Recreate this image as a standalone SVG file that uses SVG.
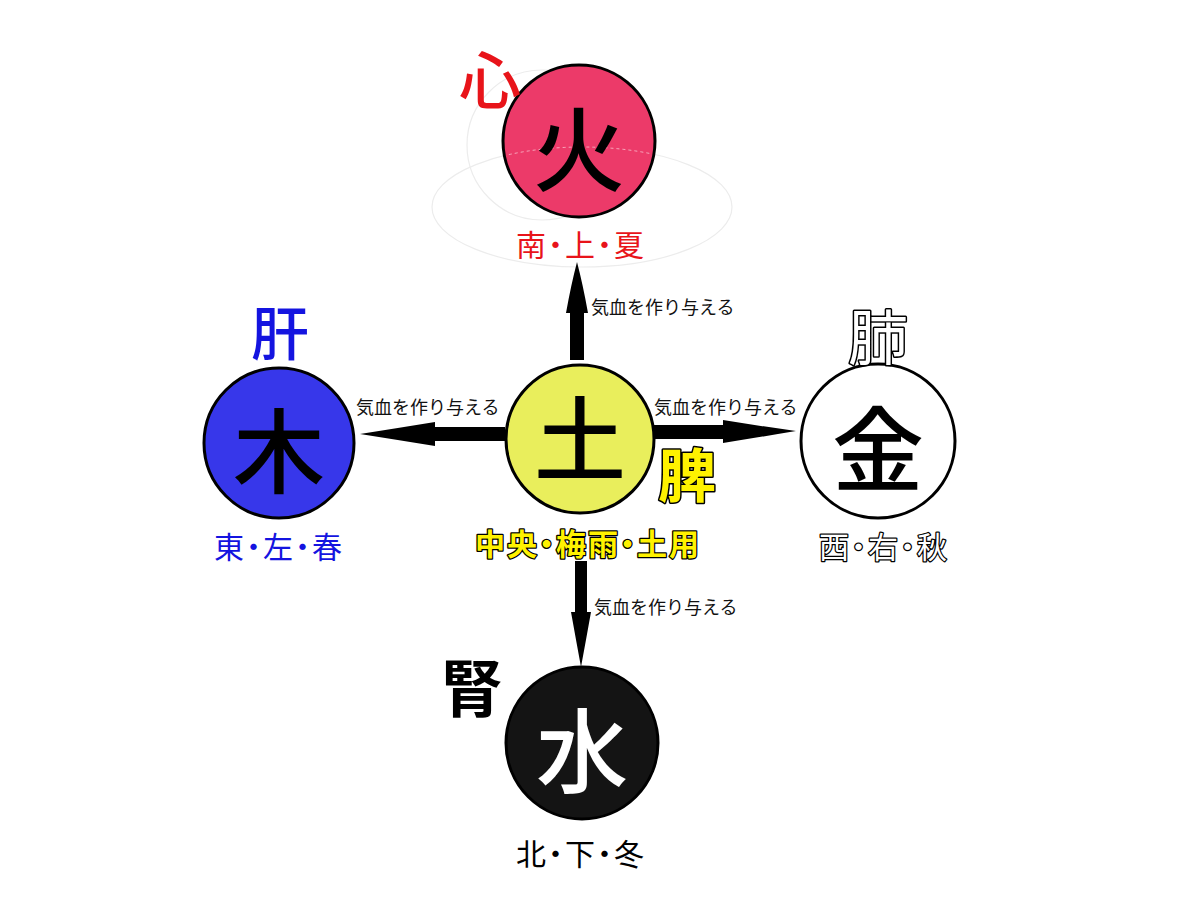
<svg xmlns="http://www.w3.org/2000/svg" width="1200" height="900" viewBox="0 0 1200 900">
<style>
text{font-family:"Noto Sans CJK JP","Noto Sans CJK SC",sans-serif;text-anchor:middle;dominant-baseline:central}
.node{stroke:#000;stroke-width:3}
.big{font-size:92px;font-weight:500}
.sub{font-size:30px;font-feature-settings:"palt";letter-spacing:2px}
.organ{font-size:58px;font-weight:500}
.lbl{font-size:18px;text-anchor:start;fill:#111}
.outl{stroke:#000;stroke-width:3;paint-order:stroke;stroke-linejoin:round}
.faint{fill:none;stroke:#ececec;stroke-width:1.2}
</style>
<defs><clipPath id="fc"><circle cx="579" cy="141" r="74"/></clipPath></defs>
<rect width="1200" height="900" fill="#fff"/>
<g id="decor">
<ellipse class="faint" cx="582" cy="207" rx="150" ry="60"/>
<circle class="faint" cx="542" cy="145" r="75"/>
</g>
<g id="fire">
<circle class="node" cx="579" cy="141" r="76" fill="#EC3A69"/>
<ellipse cx="582" cy="207" rx="150" ry="60" fill="none" stroke="#f6a6bb" stroke-width="1" stroke-dasharray="3 3" clip-path="url(#fc)"/>
<text class="big" x="579" y="143" fill="#000">火</text>
<text class="organ" x="490" y="77" fill="#E8141A" style="font-size:62px">心</text>
<text class="sub" x="581" y="243" fill="#E8141A">南・上・夏</text>
</g>
<g id="wood">
<circle class="node" cx="279" cy="443" r="75" fill="#3737EA"/>
<text class="big" x="279" y="445" fill="#000">木</text>
<text class="organ" x="280" y="330" fill="#1414E0">肝</text>
<text class="sub" x="279" y="545" fill="#1414E0">東・左・春</text>
</g>
<g id="earth">
<circle class="node" cx="580" cy="439" r="74" fill="#E9EE5C"/>
<text class="big" x="580" y="433" fill="#000">土</text>
<text class="organ outl" x="687" y="472" fill="#FFF200" style="font-weight:bold">脾</text>
<text class="sub outl" x="588" y="542" fill="#FFF200" style="font-weight:bold;stroke-width:2.5">中央・梅雨・土用</text>
</g>
<g id="metal">
<circle class="node" cx="878" cy="441" r="77" fill="#fff"/>
<text class="big" x="878" y="443" fill="#000">金</text>
<text class="organ outl" x="878" y="333" fill="#fff" style="font-weight:400;font-size:60px">肺</text>
<text class="sub outl" x="884" y="545" fill="#fff" style="stroke-width:2.5">西・右・秋</text>
</g>
<g id="water">
<circle class="node" cx="582" cy="743" r="76" fill="#141414"/>
<text class="big" x="582" y="745" fill="#fff">水</text>
<text class="organ" x="472" y="685" fill="#000" style="font-weight:bold;font-size:62px">腎</text>
<text class="sub" x="581" y="852" fill="#000">北・下・冬</text>
</g>
<g id="connectors" fill="#000">
<path d="M570,360 L570,313 L566,313 Q571,285 577,262 Q583,285 588,313 L584,313 L584,360 Z"/>
<path d="M654,425 L723,425 L723,420 Q760,426 796,431 Q760,437 723,443 L723,439 L654,439 Z"/>
<path d="M505,427 L435,427 L435,422 Q398,428 360,434 Q398,440 435,446 L435,441 L505,441 Z"/>
<path d="M575,561 L575,612 L571,612 Q576,640 581,667 Q586,640 591,612 L587,612 L587,561 Z"/>
<text class="lbl" x="591" y="306">気血を作り与える</text>
<text class="lbl" x="654" y="406">気血を作り与える</text>
<text class="lbl" x="356" y="406">気血を作り与える</text>
<text class="lbl" x="594" y="606">気血を作り与える</text>
</g>
</svg>
